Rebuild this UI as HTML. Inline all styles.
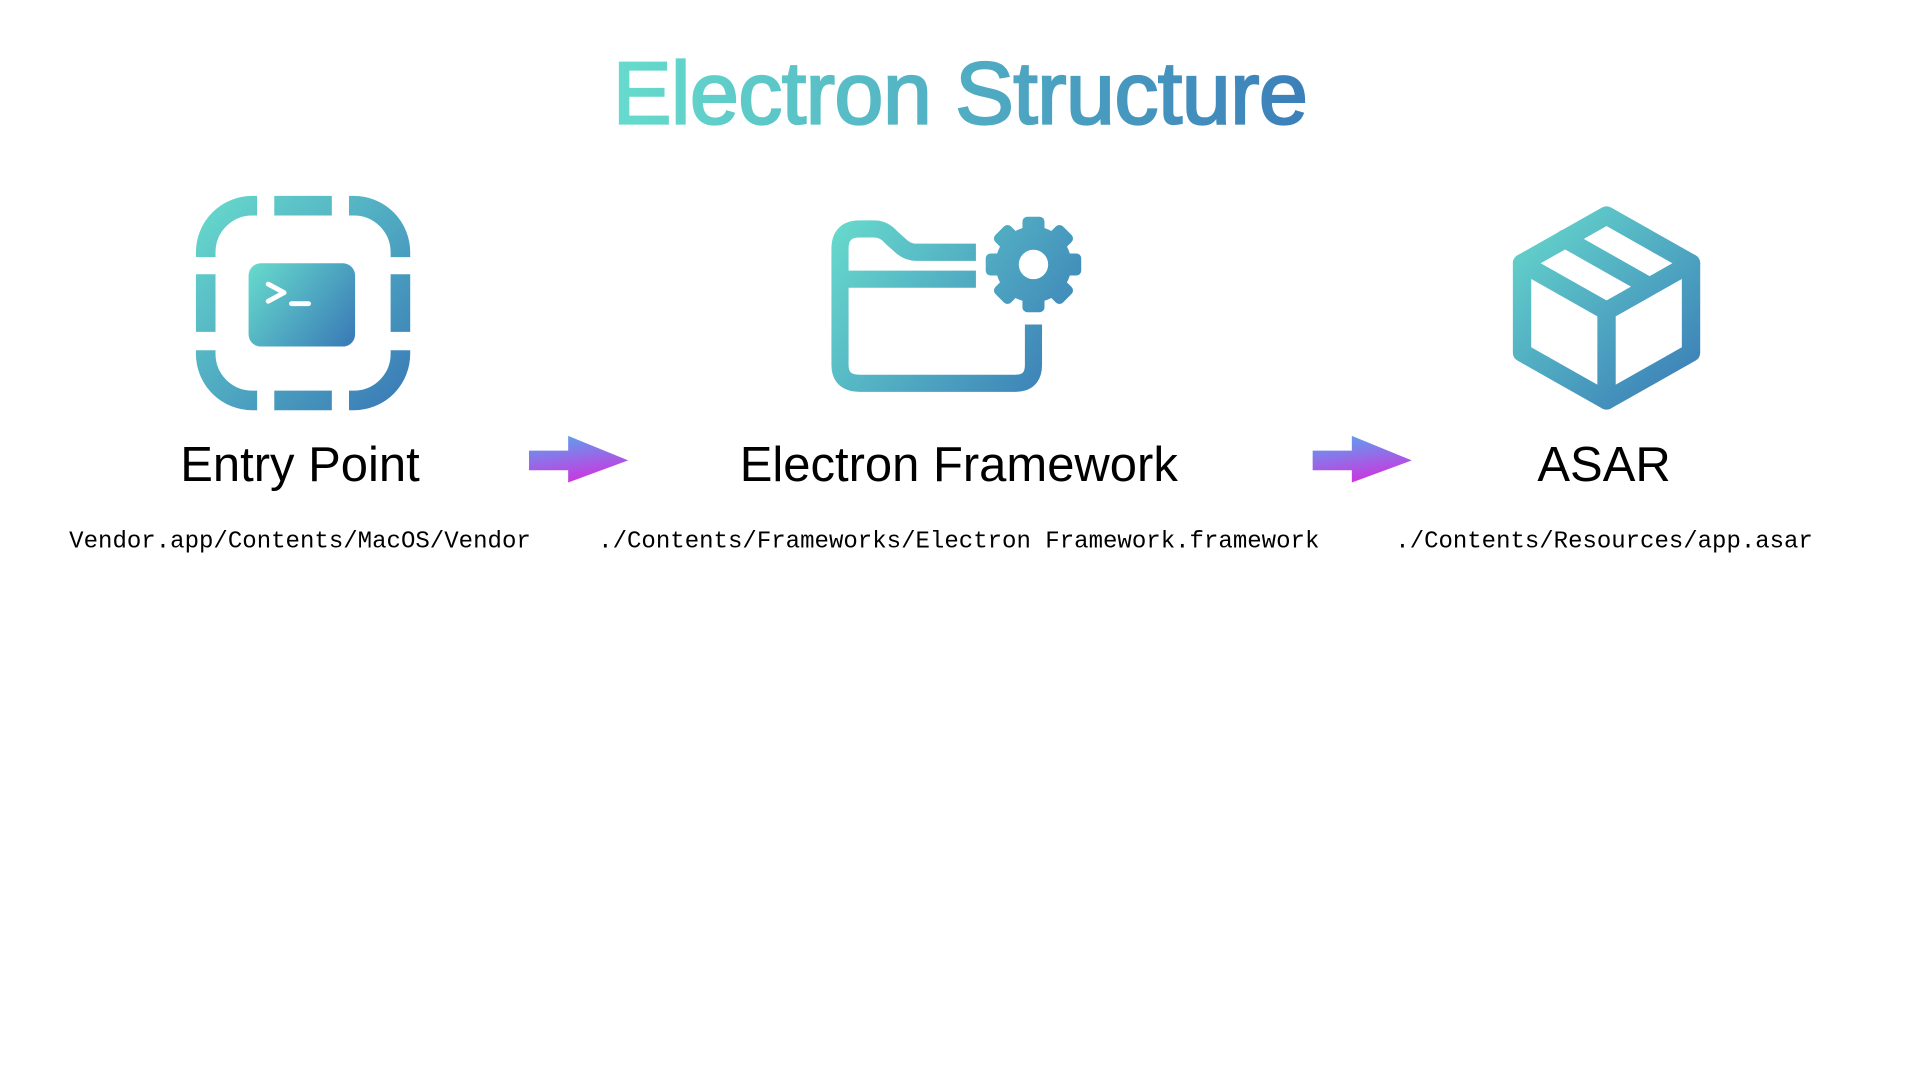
<!DOCTYPE html>
<html><head><meta charset="utf-8"><style>
html,body{margin:0;padding:0;background:#fff;width:1920px;height:1080px;overflow:hidden}
svg{display:block}
</style></head><body>
<svg width="1920" height="1080" viewBox="0 0 1568 882" xmlns="http://www.w3.org/2000/svg">
<defs>
<linearGradient id="tg" x1="0" y1="0" x2="1" y2="0"><stop offset="0" stop-color="#66dccc"/><stop offset="1" stop-color="#3b7fba"/></linearGradient>
<linearGradient id="g1" gradientUnits="userSpaceOnUse" x1="160" y1="160" x2="335" y2="335"><stop offset="0" stop-color="#68dccd"/><stop offset="1" stop-color="#3878b6"/></linearGradient>
<linearGradient id="g1b" gradientUnits="userSpaceOnUse" x1="203" y1="215" x2="290" y2="283"><stop offset="0" stop-color="#68dccd"/><stop offset="1" stop-color="#3878b6"/></linearGradient>
<linearGradient id="g2" gradientUnits="userSpaceOnUse" x1="679" y1="177" x2="884" y2="320"><stop offset="0" stop-color="#68dccd"/><stop offset="1" stop-color="#3878b6"/></linearGradient>
<linearGradient id="g3" gradientUnits="userSpaceOnUse" x1="1235" y1="168" x2="1388" y2="333"><stop offset="0" stop-color="#68dccd"/><stop offset="1" stop-color="#3878b6"/></linearGradient>
<linearGradient id="ag" x1="0" y1="0" x2="0.3" y2="1"><stop offset="0" stop-color="#55a8f0"/><stop offset="1" stop-color="#c83ae0"/></linearGradient>
<mask id="gearmask" maskUnits="userSpaceOnUse" x="790" y="160" width="110" height="110">
<circle cx="844" cy="216" r="31" fill="#fff"/>
<g transform="translate(844 216)" fill="#fff">
<rect x="-9" y="-39" width="18" height="78" rx="4"/>
<rect x="-9" y="-39" width="18" height="78" rx="4" transform="rotate(45)"/>
<rect x="-9" y="-39" width="18" height="78" rx="4" transform="rotate(90)"/>
<rect x="-9" y="-39" width="18" height="78" rx="4" transform="rotate(135)"/>
</g>
<circle cx="844" cy="216" r="12" fill="#000"/>
</mask>
</defs>
<text x="784" y="101" text-anchor="middle" font-family="Liberation Sans, sans-serif" font-size="72" fill="url(#tg)" stroke="url(#tg)" stroke-width="1.8" letter-spacing="-0.5">Electron Structure</text>

<!-- entry icon -->
<g stroke="url(#g1)" stroke-width="16" fill="none">
<path d="M168 210 V206 A38 38 0 0 1 206 168 H210"/>
<path d="M285 168 H289 A38 38 0 0 1 327 206 V210"/>
<path d="M327 286 V289 A38 38 0 0 1 289 327 H285"/>
<path d="M210 327 H206 A38 38 0 0 1 168 289 V286"/>
<path d="M224 168 H271 M224 327 H271 M168 224 V271 M327 224 V271"/>
</g>
<rect x="203" y="215" width="87" height="68" rx="10" fill="url(#g1b)"/>
<path d="M219 232 L232 239 L219 246" stroke="#fff" stroke-width="4" fill="none" stroke-linecap="round" stroke-linejoin="round"/>
<path d="M238 248 H252" stroke="#fff" stroke-width="4" stroke-linecap="round"/>

<!-- folder icon -->
<g stroke="url(#g2)" stroke-width="14" fill="none" stroke-linejoin="round">
<path d="M797 206 H748 Q742 206 737 202 L728 194 Q722 187 714 187 H702 Q686 187 686 203 V298 Q686 313 702 313 H829 Q844 313 844 298 V265"/>
<path d="M686 228 H797"/>
</g>
<rect x="790" y="160" width="110" height="110" fill="url(#g2)" mask="url(#gearmask)"/>

<!-- box icon -->
<g stroke="url(#g3)" stroke-width="15" fill="none" stroke-linejoin="round" stroke-linecap="round">
<path d="M1312 176 L1381 215 V288 L1312 327 L1243 288 V215 Z"/>
<path d="M1243 215 L1312 254 L1381 215 M1312 254 V327"/>
<path d="M1278 195 L1347 234"/>
</g>

<!-- labels -->
<g font-family="Liberation Sans, sans-serif" font-size="40" fill="#000" text-anchor="middle">
<text x="245" y="393">Entry Point</text>
<text x="783" y="393">Electron Framework</text>
<text x="1310" y="393">ASAR</text>
</g>
<g font-family="Liberation Mono, monospace" font-size="19.3" fill="#000" text-anchor="middle">
<text x="245" y="447" textLength="377" lengthAdjust="spacingAndGlyphs">Vendor.app/Contents/MacOS/Vendor</text>
<text x="783" y="447" textLength="589" lengthAdjust="spacingAndGlyphs">./Contents/Frameworks/Electron Framework.framework</text>
<text x="1310" y="447" textLength="341" lengthAdjust="spacingAndGlyphs">./Contents/Resources/app.asar</text>
</g>

<!-- arrows -->
<path d="M432 368 H464 V356 L513 376 L464 394 V384 H432 Z" fill="url(#ag)"/>
<path d="M1072 368 H1104 V356 L1153 376 L1104 394 V384 H1072 Z" fill="url(#ag)"/>
</svg>
</body></html>
